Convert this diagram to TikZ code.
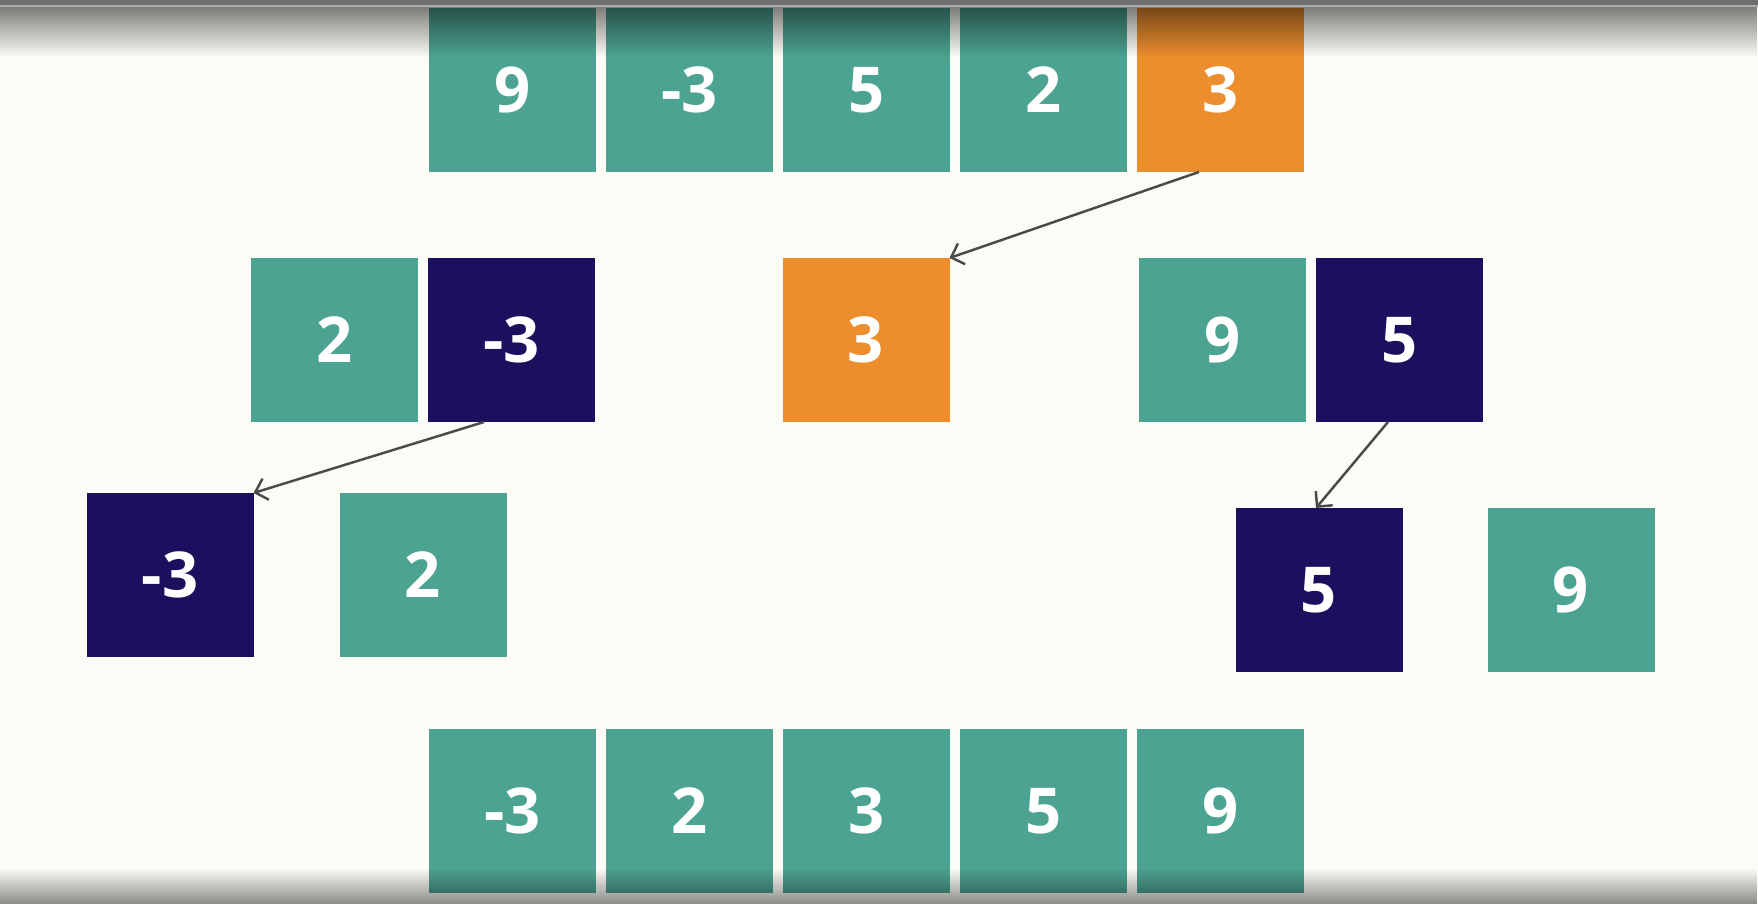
\documentclass[tikz,border=0pt]{standalone}
\usepackage{fontspec}
\setmainfont{Open Sans}
\usepackage{tikz}
\usetikzlibrary{positioning, arrows.meta, fadings}

\definecolor{cellTeal}{HTML}{4DA391}
\definecolor{cellNavy}{HTML}{1B0F5E}
\definecolor{cellOrange}{HTML}{EC8E2E}
\definecolor{arrowGray}{HTML}{4A4A4A}
\definecolor{paper}{HTML}{FCFBF6}

\begin{document}
\begin{tikzpicture}[
    cellNode/.append style = {rectangle, inner sep = 0pt, outer sep = 0pt, minimum width = 1.67cm, minimum height = 1.64cm, text = white, font = \fontsize{18}{21}\selectfont\bfseries},
    tealCell/.append style = {cellNode, fill = cellTeal},
    navyCell/.append style = {cellNode, fill = cellNavy},
    orangeCell/.append style = {cellNode, fill = cellOrange},
    myArrow/.append style = {-{Straight Barb[length = 1.1mm, width = 2.2mm]}, draw = arrowGray, line width = 0.7pt},
    node distance = 0.1cm
    ]
      \useasboundingbox (0,0) rectangle (17.58,9.04);
      \fill[paper] (0,0) rectangle (17.58,9.04);

      %% input array
      \node[tealCell] (in1) at (5.125,8.14) {9};
      \node[tealCell, right = of in1] (in2) {-3};
      \node[tealCell, right = of in2] (in3) {5};
      \node[tealCell, right = of in3] (in4) {2};
      \node[orangeCell, right = of in4] (in5) {3};

      %% partition around the pivot
      \node[tealCell] (left1) at (3.345,5.64) {2};
      \node[navyCell, right = of left1] (left2) {-3};
      \node[orangeCell] (pivot) at (8.66,5.64) {3};
      \node[tealCell] (right1) at (12.225,5.64) {9};
      \node[navyCell, right = of right1] (right2) {5};

      %% sub partitions
      \node[navyCell] (ll) at (1.70,3.29) {-3};
      \node[tealCell] (lr) at (4.23,3.29) {2};
      \node[navyCell] (rl) at (13.19,3.14) {5};
      \node[tealCell] (rr) at (15.71,3.14) {9};

      %% sorted array
      \node[tealCell] (out1) at (5.125,0.93) {-3};
      \node[tealCell, right = of out1] (out2) {2};
      \node[tealCell, right = of out2] (out3) {3};
      \node[tealCell, right = of out3] (out4) {5};
      \node[tealCell, right = of out4] (out5) {9};

      %% Arrows

      \draw[myArrow] ([xshift = -2.15mm]in5.south) -- (pivot.north east);
      \draw[myArrow] ([xshift = -2.75mm]left2.south) -- (ll.north east);
      \draw[myArrow] ([xshift = -1.15mm]right2.south) -- ([xshift = -0.3mm]rl.north);

      %% screen bands
      \fill[black, fill opacity = 0.5, path fading = south] (0,8.47) rectangle (17.58,8.97);
      \fill[black!57] (0,8.99) rectangle (17.58,9.04);
      \fill[black!33] (0,8.97) rectangle (17.58,8.99);
      \fill[black, fill opacity = 0.45, path fading = north] (0,0) rectangle (17.58,0.36);
    \end{tikzpicture}
\end{document}
